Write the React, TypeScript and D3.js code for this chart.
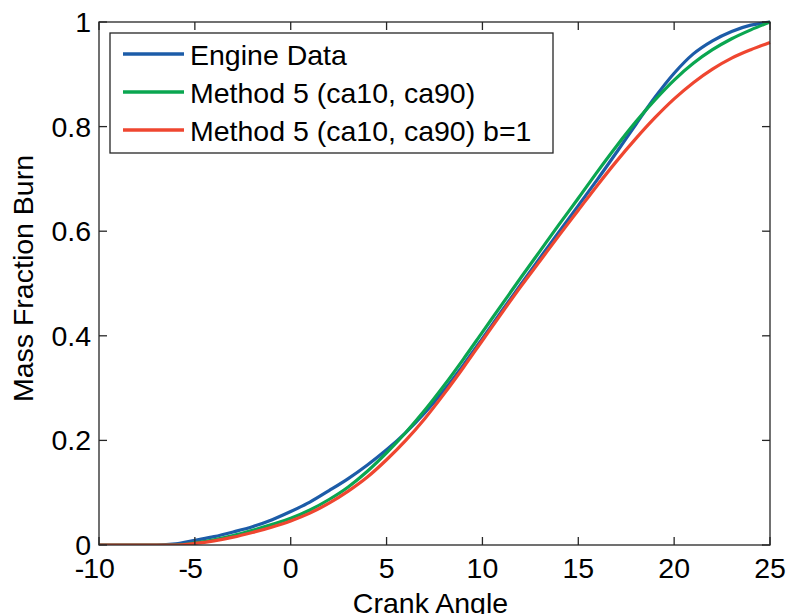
import React from "react";
import * as d3 from "d3";

const crankAngle = [-10, -8, -7, -6, -5, -4, -3, -2, -1, 0, 1, 2, 3, 4, 5, 6, 7, 8, 9, 10, 11, 12, 13, 14, 15, 16, 17, 18, 19, 20, 21, 22, 23, 24, 25];
const engineData = [0, 0, 0, 0.002, 0.009, 0.016, 0.025, 0.035, 0.048, 0.064, 0.082, 0.104, 0.127, 0.153, 0.182, 0.215, 0.253, 0.296, 0.344, 0.395, 0.447, 0.498, 0.549, 0.599, 0.649, 0.699, 0.751, 0.804, 0.856, 0.902, 0.939, 0.964, 0.982, 0.994, 1.0];
const method5 = [0, 0, 0, 0, 0.004, 0.01, 0.018, 0.028, 0.039, 0.051, 0.067, 0.087, 0.111, 0.141, 0.176, 0.215, 0.258, 0.305, 0.355, 0.407, 0.459, 0.511, 0.562, 0.613, 0.663, 0.714, 0.763, 0.809, 0.851, 0.889, 0.921, 0.947, 0.968, 0.985, 1.0];
const method5b1 = [0, 0, 0, 0, 0.003, 0.008, 0.015, 0.024, 0.034, 0.046, 0.061, 0.08, 0.103, 0.13, 0.163, 0.2, 0.242, 0.289, 0.339, 0.391, 0.443, 0.494, 0.543, 0.592, 0.64, 0.688, 0.734, 0.777, 0.817, 0.853, 0.884, 0.91, 0.931, 0.947, 0.961];

const seriesNames = ["Engine Data", "Method 5 (ca10, ca90)", "Method 5 (ca10, ca90) b=1"];
const seriesColors = ["#1c5ca8", "#0aa650", "#ef4630"];
const xTicks = [-10, -5, 0, 5, 10, 15, 20, 25];
const yTicks = [0, 0.2, 0.4, 0.6, 0.8, 1];
const yTickLabels = ["0", "0.2", "0.4", "0.6", "0.8", "1"];
const xLabel = "Crank Angle";
const yLabel = "Mass Fraction Burn";

const W = 787, H = 614;
const L = 99, R = 770, T = 22, B = 545;
const FONT = "'Liberation Sans', Arial, sans-serif";
const AX = "#262626";

export default function App() {
  const x = d3.scaleLinear().domain([-10, 25]).range([L, R]);
  const y = d3.scaleLinear().domain([0, 1]).range([B, T]);
  const allSeries = [engineData, method5, method5b1];
  const line = d3
    .line<[number, number]>()
    .x((d) => x(d[0]))
    .y((d) => y(d[1]))
    .curve(d3.curveMonotoneX);

  const tickLen = 8;
  const fs = 28.5;
  const digitW = 0.556 * fs;

  return (
    <svg width={W} height={H} style={{ position: "absolute", left: 0, top: 0, background: "#fff" }} fontFamily={FONT}>
      <rect x={0} y={0} width={W} height={H} fill="#fff" />
      <defs>
        <clipPath id="clip">
          <rect x={L} y={T - 2} width={R - L + 2} height={B - T + 2} />
        </clipPath>
      </defs>
      <g clipPath="url(#clip)">
        {allSeries.map((s, i) => (
          <path
            key={i}
            d={line(crankAngle.map((c, j) => [c, s[j]] as [number, number])) || ""}
            fill="none"
            stroke={seriesColors[i]}
            strokeWidth={3.2}
            strokeLinejoin="round"
          />
        ))}
      </g>
      <rect x={L} y={T} width={R - L} height={B - T} fill="none" stroke={AX} strokeWidth={1.3} />
      {xTicks.map((t) => {
        const lab = String(Math.abs(t));
        return (
          <g key={"xt" + t}>
            <line x1={x(t)} x2={x(t)} y1={B} y2={B - tickLen} stroke={AX} strokeWidth={1.3} />
            <line x1={x(t)} x2={x(t)} y1={T} y2={T + tickLen} stroke={AX} strokeWidth={1.3} />
            <text x={x(t)} y={578} fontSize={fs} textAnchor="middle" fill="#000">
              {lab}
            </text>
            {t < 0 && (
              <text x={x(t) - (lab.length * digitW) / 2 + 1} y={578} fontSize={fs} textAnchor="end" fill="#000">
                -
              </text>
            )}
          </g>
        );
      })}
      {yTicks.map((t, i) => (
        <g key={"yt" + t}>
          <line x1={L} x2={L + tickLen} y1={y(t)} y2={y(t)} stroke={AX} strokeWidth={1.3} />
          <line x1={R} x2={R - tickLen} y1={y(t)} y2={y(t)} stroke={AX} strokeWidth={1.3} />
          <text x={L - 8} y={y(t) + 10} fontSize={fs} textAnchor="end" fill="#000">
            {yTickLabels[i]}
          </text>
        </g>
      ))}
      <text x={(L + R) / 2 - 4} y={613} fontSize={fs} textAnchor="middle" fill="#000">
        {xLabel}
      </text>
      <text
        transform={`translate(${33},${(T + B) / 2 - 5}) rotate(-90)`}
        fontSize={fs}
        textAnchor="middle"
        fill="#000"
      >
        {yLabel}
      </text>
      <rect x={110} y={33} width={443} height={120} fill="#fff" stroke={AX} strokeWidth={1.3} />
      {seriesNames.map((n, i) => (
        <g key={n}>
          <line x1={123} x2={184} y1={54 + i * 38} y2={54 + i * 38} stroke={seriesColors[i]} strokeWidth={3.4} />
          <text x={190} y={54 + i * 38 + 11} fontSize={fs} fill="#000">
            {n}
          </text>
        </g>
      ))}
    </svg>
  );
}
